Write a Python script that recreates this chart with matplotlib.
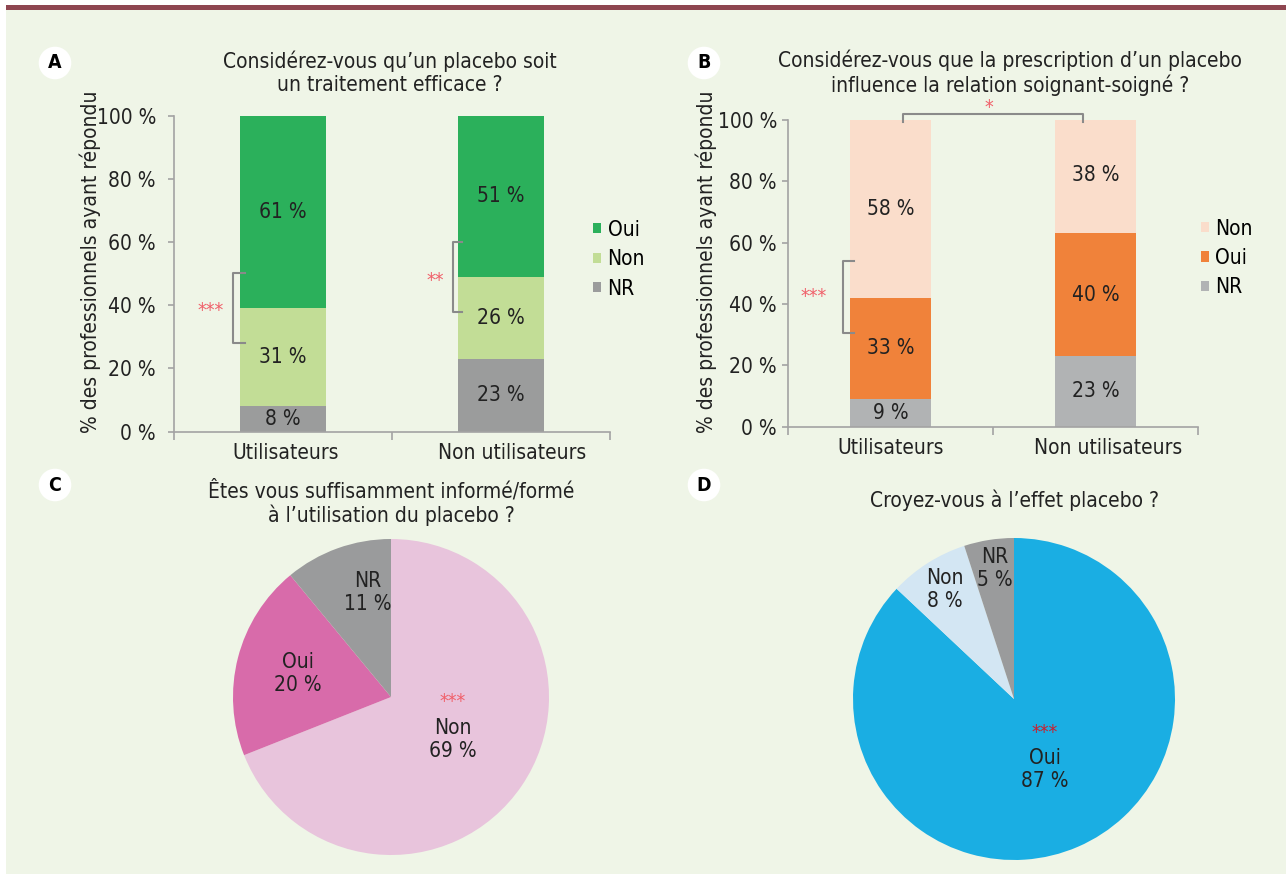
import matplotlib
matplotlib.use("Agg")
import matplotlib.pyplot as plt
from matplotlib.patches import Rectangle

W, H = 1286, 874
plt.rcParams['font.family'] = ['DejaVu Sans']
plt.rcParams['font.stretch'] = 'condensed'
FS = 15

groups = ['Utilisateurs', 'Non utilisateurs']

# A : placebo = traitement efficace ?
a_nr = [8, 23]
a_non = [31, 26]
a_oui = [61, 51]

# B : influence sur la relation soignant-soigné ?
b_nr = [9, 23]
b_oui = [33, 40]
b_non = [58, 38]

# C : suffisamment informé/formé ?
c_labels = ['Non', 'Oui', 'NR']
c_values = [69, 20, 11]

# D : croyez-vous à l'effet placebo ?
d_labels = ['Oui', 'Non', 'NR']
d_values = [87, 8, 5]

yticks = [0, 20, 40, 60, 80, 100]
ytick_labels = [f'{v} %' for v in yticks]

BG = '#EFF5E7'
GRAY_AX = '#A3A3A3'
STAR = '#F0606A'

fig = plt.figure(figsize=(W / 100, H / 100), dpi=100)
fig.patch.set_facecolor('white')
fig.add_artist(Rectangle((6 / W, 0), 1, 1 - 10 / H, transform=fig.transFigure,
                         facecolor=BG, edgecolor='none', zorder=0))
fig.add_artist(Rectangle((6 / W, 1 - 10 / H), 1, 5 / H, transform=fig.transFigure,
                         facecolor='#8E4650', edgecolor='none', zorder=0))


def box(l, t, r, b):
    return fig.add_axes([l / W, 1 - b / H, (r - l) / W, (b - t) / H])


def fx(x):
    return x / W


def fy(y):
    return 1 - y / H


def letter(x, y, s):
    fig.text(fx(x), fy(y), s, ha='center', va='center', fontsize=14, fontweight='bold',
             bbox=dict(boxstyle='circle,pad=0.35', fc='white', ec='none'))


def style_bar_axes(ax, ypad, label_x):
    ax.set_facecolor('none')
    for s in ['top', 'right']:
        ax.spines[s].set_visible(False)
    for s in ['left', 'bottom']:
        ax.spines[s].set_color(GRAY_AX)
        ax.spines[s].set_linewidth(1.2)
    ax.set_xlim(-0.5, 1.5)
    ax.set_ylim(0, 100)
    ax.set_yticks(yticks)
    ax.set_yticklabels(ytick_labels, fontsize=FS, color='#222222')
    ax.set_xticks(label_x)
    ax.set_xticklabels(groups, fontsize=FS, color='#222222')
    ax.set_xticks([-0.5, 0.5, 1.5], minor=True)
    ax.tick_params(axis='x', which='major', length=0, pad=8)
    ax.tick_params(axis='x', which='minor', length=6, color=GRAY_AX, width=1.2)
    ax.tick_params(axis='y', length=4, color=GRAY_AX, width=1.2, pad=ypad)


def stack(ax, series, colors, width):
    bottoms = [0, 0]
    handles = []
    for vals, col in zip(series, colors):
        bars = ax.bar([0, 1], vals, bottom=bottoms, width=width, color=col, zorder=2)
        handles.append(bars)
        for i, v in enumerate(vals):
            ax.text(i, bottoms[i] + v / 2, f'{v} %', ha='center', va='center',
                    fontsize=FS, color='#222222', zorder=3)
        bottoms = [b + v for b, v in zip(bottoms, vals)]
    return handles


def bracket(ax, x, y0, y1, x_end, color='#8A8A8A'):
    ax.plot([x_end, x, x, x_end], [y1, y1, y0, y0], color=color, lw=1.5, clip_on=False, zorder=3)


# ---------- A ----------
axA = box(174, 115.7, 610, 431.7)
style_bar_axes(axA, 9, [0.01, 1.05])
hA = stack(axA, [a_nr, a_non, a_oui], ['#9B9C9C', '#C2DD96', '#2BB05B'], 0.395)
axA.legend([hA[2], hA[1], hA[0]], ['Oui', 'Non', 'NR'], loc='center left',
           bbox_to_anchor=(0.962, 0.546), frameon=False, fontsize=FS,
           handlelength=0.38, handleheight=0.38, handletextpad=0.3,
           labelspacing=0.45, borderpad=0, borderaxespad=0)
bracket(axA, -0.229, 28, 50.3, -0.174)
axA.text(-0.33, 38.5, '***', color=STAR, fontsize=14, ha='center', va='center', clip_on=False)
bracket(axA, 0.782, 38, 60, 0.82)
axA.text(0.70, 48, '**', color=STAR, fontsize=14, ha='center', va='center', clip_on=False)
fig.text(fx(90), fy(262), '% des professionnels ayant répondu', rotation=90,
         ha='center', va='center', fontsize=FS, color='#222222')
fig.text(fx(390), fy(73), "Considérez-vous qu’un placebo soit\nun traitement efficace ?",
         ha='center', va='center', fontsize=FS, color='#222222', linespacing=1.2)
letter(55, 63, 'A')

# ---------- B ----------
axB = box(788, 120, 1198, 426.7)
style_bar_axes(axB, 4, [0, 1.06])
hB = stack(axB, [b_nr, b_oui, b_non], ['#B1B3B4', '#F0823A', '#FADDCB'], 0.395)
axB.legend([hB[2], hB[1], hB[0]], ['Non', 'Oui', 'NR'], loc='center left',
           bbox_to_anchor=(1.008, 0.55), frameon=False, fontsize=FS,
           handlelength=0.38, handleheight=0.38, handletextpad=0.3,
           labelspacing=0.45, borderpad=0, borderaxespad=0)
bracket(axB, -0.23, 30.5, 54, -0.18)
axB.text(-0.375, 42.5, '***', color=STAR, fontsize=14, ha='center', va='center', clip_on=False)
axB.plot([0.06, 0.06, 0.94, 0.94], [99.3, 102, 102, 99.3], color='#8A8A8A', lw=1.5,
         clip_on=False, zorder=3)
axB.text(0.48, 104.2, '*', color=STAR, fontsize=14, ha='center', va='center', clip_on=False)
fig.text(fx(706), fy(262), '% des professionnels ayant répondu', rotation=90,
         ha='center', va='center', fontsize=FS, color='#222222')
fig.text(fx(1010), fy(73),
         "Considérez-vous que la prescription d’un placebo\ninfluence la relation soignant-soigné ?",
         ha='center', va='center', fontsize=FS, color='#222222', linespacing=1.2)
letter(704, 63, 'B')

# ---------- C ----------
axC = box(391 - 158, 697 - 158, 391 + 158, 697 + 158)
axC.pie(c_values, colors=['#E8C4DC', '#D86BAA', '#9A9B9C'], startangle=90,
        counterclock=False, radius=1, wedgeprops=dict(linewidth=0))
axC.set_xlim(-1, 1)
axC.set_ylim(-1, 1)
axC.set_aspect('equal')
axC.axis('off')
c_pos = [(0.39, -0.27), (-0.59, 0.15), (-0.15, 0.66)]
for lab, v, (x, y) in zip(c_labels, c_values, c_pos):
    axC.text(x, y, f'{lab}\n{v} %', ha='center', va='center', fontsize=FS,
             color='#222222', linespacing=1.2)
axC.text(0.39, -0.03, '***', ha='center', va='center', fontsize=14, color=STAR)
fig.text(fx(391), fy(503), "Êtes vous suffisamment informé/formé\nà l’utilisation du placebo ?",
         ha='center', va='center', fontsize=FS, color='#222222', linespacing=1.2)
letter(55, 485, 'C')

# ---------- D ----------
axD = box(1014 - 161, 699 - 161, 1014 + 161, 699 + 161)
axD.pie(d_values, colors=['#1AAEE3', '#D3E6F3', '#9A9B9C'], startangle=90,
        counterclock=False, radius=1, wedgeprops=dict(linewidth=0))
axD.set_xlim(-1, 1)
axD.set_ylim(-1, 1)
axD.set_aspect('equal')
axD.axis('off')
d_pos = [(0.19, -0.44), (-0.43, 0.68), (-0.12, 0.81)]
for lab, v, (x, y) in zip(d_labels, d_values, d_pos):
    axD.text(x, y, f'{lab}\n{v} %', ha='center', va='center', fontsize=FS,
             color='#222222', linespacing=1.2)
axD.text(0.19, -0.21, '***', ha='center', va='center', fontsize=14, color='#C8202F')
fig.text(fx(1014), fy(500), "Croyez-vous à l’effet placebo ?",
         ha='center', va='center', fontsize=FS, color='#222222')
letter(704, 485, 'D')

fig.savefig('out.png', dpi=100, facecolor=fig.get_facecolor())
